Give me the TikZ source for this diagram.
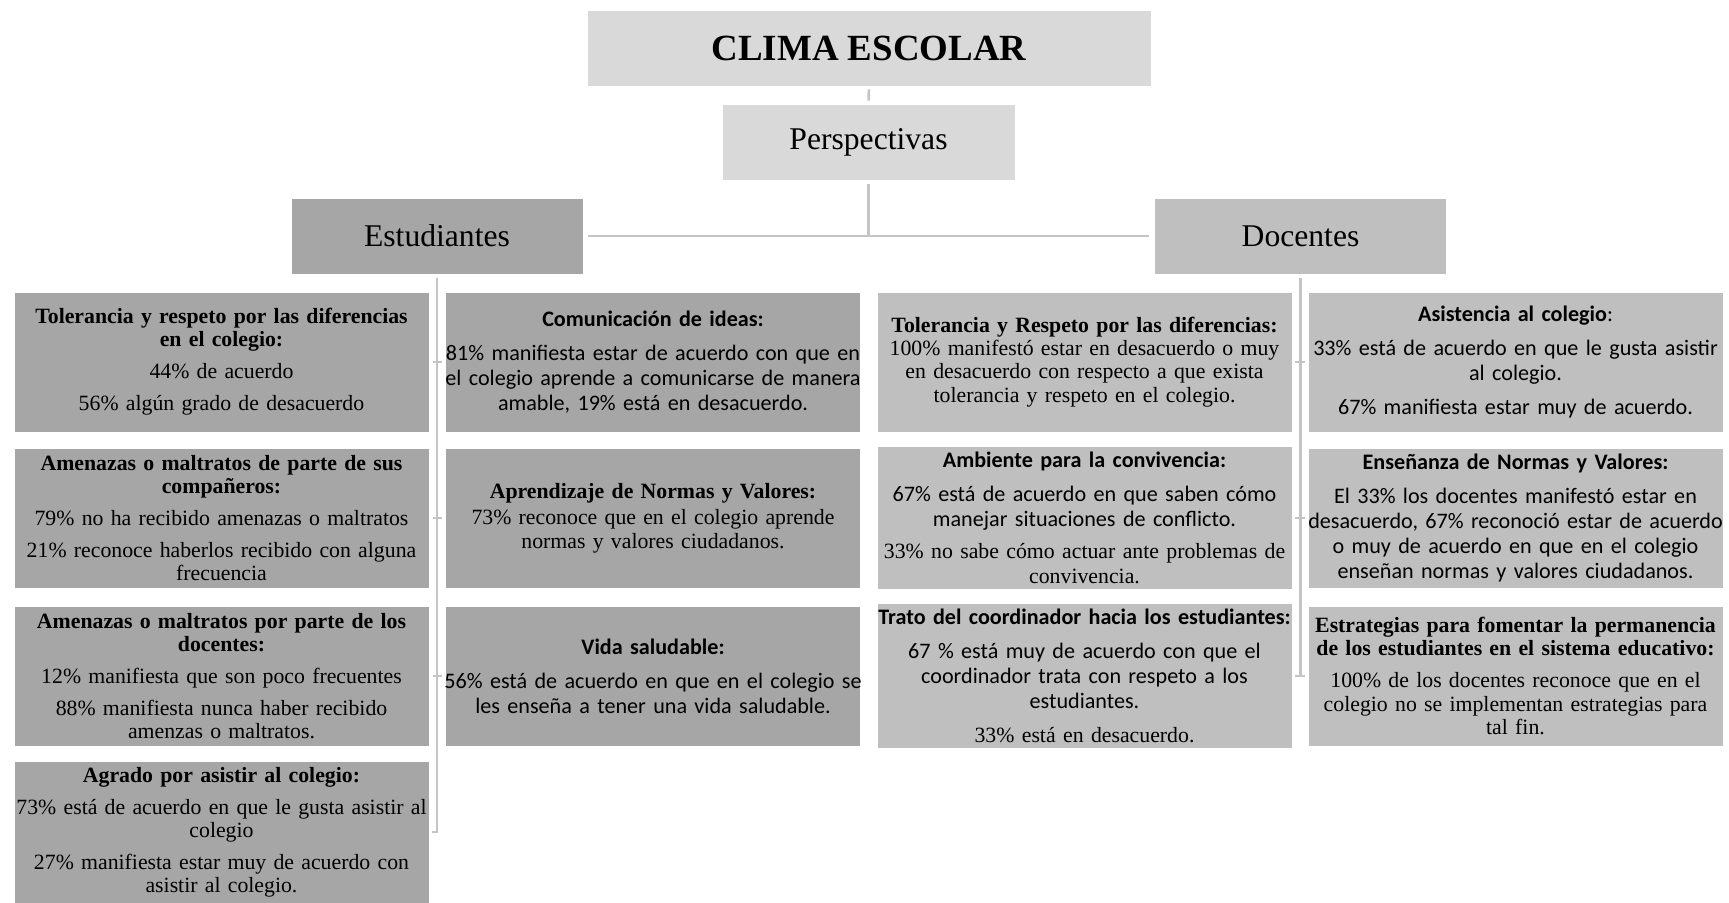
\documentclass[tikz,border=0pt]{standalone}
\usepackage{fontspec}
\setmainfont{Liberation Serif}
\newfontfamily\calibri{Carlito}
\usetikzlibrary{calc}
\definecolor{boxlight}{HTML}{D9D9D9}
\definecolor{boxdark}{HTML}{A6A6A6}
\definecolor{boxmid}{HTML}{BFBFBF}
\definecolor{linegray}{HTML}{C4C4C4}
\newcommand{\rmtxt}{\rmfamily\fontsize{12.4}{13.2}\selectfont\hyphenpenalty=10000 }
\newcommand{\cbtxt}{\calibri\fontsize{12.6}{14.3}\selectfont\hyphenpenalty=10000 }
\newcommand{\pgap}{\par\vspace{5pt}}

\begin{document}
\begin{tikzpicture}[x=0.02cm, y=-0.02cm,
    head/.style={fill=boxlight, draw=white, minimum width=11.28cm, minimum height=1.52cm},
    side/.style={draw=white, minimum width=5.84cm, minimum height=1.52cm, font=\fontsize{18}{20}\selectfont},
    item/.style={draw=white, minimum width=8.3cm, minimum height=2.8cm, text width=8.5cm,
                 inner xsep=-0.1cm, align=center},
    link/.style={draw=linegray, line width=1.5pt}]
            \useasboundingbox (0,0) rectangle (1729,903);

            % Draw the top of the chart
            \node[head, font=\bfseries\fontsize{21}{24}\selectfont] (clima) at (869, 48) {CLIMA ESCOLAR};
            \node[head, minimum width=5.86cm, font=\fontsize{18}{20}\selectfont] (persp) at (868.5, 142) {Perspectivas};
            \node[side, fill=boxdark] (est) at (437, 236) {Estudiantes};
            \node[side, fill=boxmid] (doc) at (1300.5, 236) {Docentes};

            \draw[link, shorten <=0.06cm, shorten >=0.06cm] (clima.south) -- (persp.north);
            \draw[link, shorten <=0.08cm] (persp.south) -- (persp.south |- est.east);
            \draw[link, shorten <=0.1cm, shorten >=0.1cm] (est.east) -- (doc.west);

            % Draw the Estudiantes boxes
            \node[item, fill=boxdark, font=\rmtxt] (e1) at (221.5, 362)
                {\textbf{Tolerancia y respeto por las diferencias\\ en el colegio:}\pgap
                 44\% de acuerdo\pgap
                 56\% algún grado de desacuerdo};
            \node[item, fill=boxdark, font=\rmtxt] (e2) at (221.5, 518)
                {\textbf{Amenazas o maltratos de parte de sus\\ compañeros:}\pgap
                 79\% no ha recibido amenazas o maltratos\pgap
                 21\% reconoce haberlos recibido con alguna\\ frecuencia};
            \node[item, fill=boxdark, font=\rmtxt] (e3) at (221.5, 676)
                {\textbf{Amenazas o maltratos por parte de los\\ docentes:}\pgap
                 12\% manifiesta que son poco frecuentes\pgap
                 88\% manifiesta nunca haber recibido\\ amenzas o maltratos.};
            \node[item, fill=boxdark, font=\rmtxt] (e4) at (221.5, 832)
                {\textbf{Agrado por asistir al colegio:}\pgap
                 73\% está de acuerdo en que le gusta asistir al\\ colegio\pgap
                 27\% manifiesta estar muy de acuerdo con\\ asistir al colegio.};

            \node[item, fill=boxdark, font=\cbtxt] (e5) at (653, 362)
                {\textbf{Comunicación de ideas:}\pgap
                 81\% manifiesta estar de acuerdo con que en\\ el colegio aprende a comunicarse de manera\\ amable, 19\% está en desacuerdo.};
            \node[item, fill=boxdark, font=\rmtxt] (e6) at (653, 518)
                {\textbf{Aprendizaje de Normas y Valores:}\par\vspace{2pt}
                 73\% reconoce que en el colegio aprende\\ normas y valores ciudadanos.};
            \node[item, fill=boxdark, font=\cbtxt] (e7) at (653, 676)
                {\textbf{Vida saludable:}\pgap
                 56\% está de acuerdo en que en el colegio se\\ les enseña a tener una vida saludable.};

            % Draw the Docentes boxes
            \node[item, fill=boxmid, font=\rmtxt] (d1) at (1084.5, 362)
                {\textbf{Tolerancia y Respeto por las diferencias:}\\
                 100\% manifestó estar en desacuerdo o muy\\ en desacuerdo con respecto a que exista\\ tolerancia y respeto en el colegio.};
            \node[item, fill=boxmid, font=\cbtxt] (d2) at (1084.5, 518)
                {\textbf{Ambiente para la convivencia:}\pgap
                 67\% está de acuerdo en que saben cómo\\ manejar situaciones de conflicto.\pgap
                 \rmtxt 33\% no sabe cómo actuar ante problemas de\\ convivencia.};
            \node[item, fill=boxmid, font=\cbtxt] (d3) at (1084.5, 676)
                {\textbf{Trato del coordinador hacia los estudiantes:}\pgap
                 67 \% está muy de acuerdo con que el\\ coordinador trata con respeto a los\\ estudiantes.\pgap
                 \rmtxt 33\% está en desacuerdo.};

            \node[item, fill=boxmid, font=\cbtxt] (d4) at (1515.5, 362)
                {\textbf{Asistencia al colegio}:\pgap
                 33\% está de acuerdo en que le gusta asistir\\ al colegio.\pgap
                 67\% manifiesta estar muy de acuerdo.};
            \node[item, fill=boxmid, font=\cbtxt] (d5) at (1515.5, 518)
                {\textbf{Enseñanza de Normas y Valores:}\pgap
                 El 33\% los docentes manifestó estar en\\ desacuerdo, 67\% reconoció estar de acuerdo\\ o muy de acuerdo en que en el colegio\\ enseñan normas y valores ciudadanos.};
            \node[item, fill=boxmid, font=\rmtxt] (d6) at (1515.5, 676)
                {\textbf{Estrategias para fomentar la permanencia\\ de los estudiantes en el sistema educativo:}\pgap
                 100\% de los docentes reconoce que en el\\ colegio no se implementan estrategias para\\ tal fin.};

            % Draw the branch lines
            \draw[link, shorten <=0.08cm, shorten >=0.06cm] (est.south) -- (est.south |- e4.east) -- (e4.east);
            \draw[link, shorten <=0.07cm, shorten >=0.07cm] (e1.east) -- (e5.west);
            \draw[link, shorten <=0.07cm, shorten >=0.07cm] (e2.east) -- (e6.west);
            \draw[link, shorten <=0.07cm, shorten >=0.07cm] (e3.east) -- (e7.west);

            \draw[link, shorten <=0.08cm] (doc.south) -- (doc.south |- d3.east);
            \draw[link, shorten <=0.06cm, shorten >=0.06cm] (d1.east) -- (d4.west);
            \draw[link, shorten <=0.06cm, shorten >=0.06cm] (d2.east) -- (d5.west);
            \draw[link, shorten <=0.06cm, shorten >=0.06cm] (d3.east) -- (d6.west);

        \end{tikzpicture}
\end{document}
